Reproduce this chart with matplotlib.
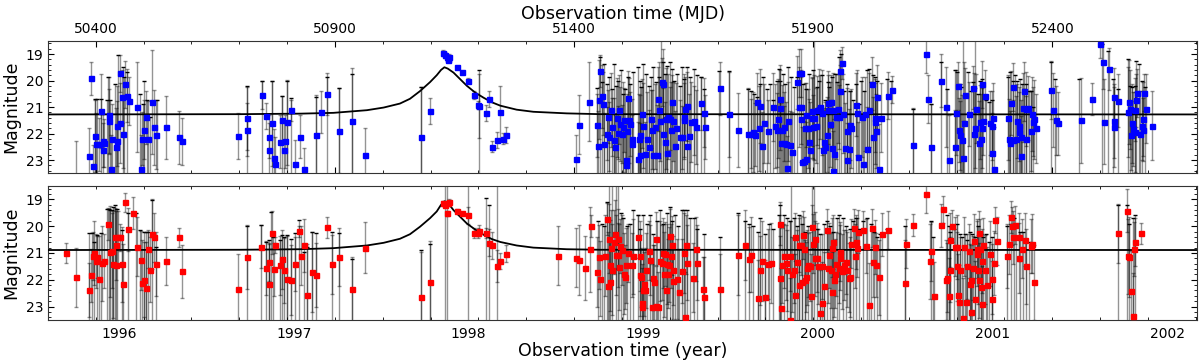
import numpy as np
import matplotlib.pyplot as plt
from matplotlib.ticker import MultipleLocator

# (MJD, magnitude, error), one list per season
blue_s1 = [
    (50387, 22.85, 1.06), (50391, 19.91, 0.62), (50394, 23.22, 0.8), (50399, 22.09, 1.37),
    (50401, 22.41, 1.2), (50407, 22.40, 1.0), (50411, 21.15, 1.4), (50415, 22.62, 1.0),
    (50415, 22.27, 1.0), (50418, 22.37, 0.9), (50428, 21.31, 1.46), (50428, 21.52, 1.2),
    (50432, 23.35, 1.3), (50435, 22.19, 1.3), (50442, 22.52, 1.5), (50444, 21.72, 1.5),
    (50444, 22.27, 1.5), (50450, 21.60, 1.5), (50451, 19.72, 0.7), (50456, 20.62, 1.0),
    (50458, 22.00, 1.3), (50462, 20.15, 0.9), (50466, 20.57, 1.0), (50469, 20.77, 0.9),
    (50486, 21.00, 1.68), (50495, 23.35, 1.3), (50497, 22.19, 1.0), (50501, 21.85, 1.1),
    (50505, 21.39, 1.0), (50510, 22.19, 1.4), (50518, 20.80, 1.97), (50522, 21.77, 1.4),
    (50527, 22.04, 1.3), (50546, 21.77, 1.2), (50574, 22.15, 1.0), (50581, 22.30, 0.9),
    (50359, 23.90, 1.6),
]
blue_s2 = [
    (50697, 22.10, 0.88), (50716, 21.43, 1.2), (50717, 21.85, 1.0), (50747, 20.54, 0.54),
    (50755, 21.34, 0.5), (50762, 22.12, 0.8), (50762, 22.62, 1.0), (50768, 21.62, 1.6),
    (50772, 22.92, 1.1), (50775, 23.15, 1.0), (50785, 22.31, 1.0), (50789, 21.50, 0.9),
    (50794, 22.62, 1.1), (50796, 22.29, 1.0), (50800, 21.57, 1.6), (50809, 21.12, 0.4),
    (50817, 23.15, 0.9), (50828, 22.12, 0.8), (50835, 23.35, 0.8), (50861, 22.04, 1.5),
    (50871, 21.19, 0.8), (50884, 20.51, 0.8), (50908, 21.89, 1.6), (50936, 21.54, 2.0),
    (50964, 22.81, 1.0),
]
blue_s3 = [
    (51080, 22.15, 1.9), (51099, 21.15, 0.5), (51126, 18.97, 0.12), (51131, 19.04, 0.1),
    (51134, 19.12, 0.1), (51136, 19.17, 0.1), (51137, 19.22, 0.1), (51138, 19.10, 0.1),
    (51156, 19.50, 0.06), (51165, 19.69, 0.06), (51179, 20.00, 0.1), (51190, 20.56, 0.15),
    (51200, 20.91, 0.15), (51202, 20.97, 1.2), (51215, 21.22, 0.3), (51222, 20.69, 0.3),
    (51228, 22.50, 0.2), (51239, 22.26, 0.3), (51246, 21.20, 1.0), (51252, 22.19, 0.2),
    (51257, 22.06, 0.3),
]
blue_s4 = [
    (51404, 22.97, 0.9), (51411, 21.66, 1.1), (51432, 20.80, 1.5), (51448, 21.69, 1.2),
    (51450, 22.46, 1.3), (51453, 20.72, 1.5), (51455, 19.65, 0.6), (51458, 20.60, 1.2),
    (51461, 20.87, 1.2), (51463, 22.41, 1.2), (51470, 22.00, 1.0), (51472, 21.37, 1.0),
    (51474, 22.12, 1.3), (51477, 21.12, 1.4), (51480, 21.75, 1.1), (51483, 22.25, 1.6),
    (51486, 22.50, 1.2), (51490, 21.40, 1.5), (51493, 21.97, 1.0), (51494, 21.10, 1.3),
    (51496, 21.65, 1.4), (51500, 22.02, 1.1), (51502, 21.75, 1.7), (51505, 21.50, 1.2),
    (51508, 23.00, 1.5), (51509, 23.19, 1.3), (51510, 21.90, 1.4), (51513, 20.65, 1.0),
    (51515, 21.50, 1.6), (51517, 21.65, 1.2), (51521, 22.19, 1.5), (51522, 22.41, 1.1),
    (51533, 22.97, 1.4), (51535, 22.19, 1.7), (51537, 22.81, 1.2), (51539, 22.04, 1.5),
    (51542, 21.25, 1.3), (51544, 21.70, 1.6), (51549, 22.77, 1.2), (51552, 22.22, 1.8),
    (51556, 22.50, 1.4), (51561, 21.44, 1.1), (51564, 21.85, 1.5), (51566, 22.81, 1.3),
    (51570, 21.75, 1.6), (51573, 22.81, 1.9), (51575, 20.69, 1.2), (51577, 21.12, 1.8),
    (51580, 21.54, 1.5), (51584, 20.06, 0.9), (51587, 20.12, 1.3), (51587, 22.00, 1.7),
    (51590, 22.31, 1.5), (51593, 21.44, 1.9), (51594, 22.75, 1.4), (51596, 21.37, 1.6),
    (51600, 21.44, 1.2), (51602, 21.85, 1.8), (51605, 20.81, 1.0), (51607, 21.54, 1.5),
    (51611, 22.46, 1.3), (51614, 21.81, 1.7), (51621, 22.15, 1.4), (51625, 22.15, 1.2),
    (51629, 21.37, 1.6), (51630, 21.50, 1.4), (51633, 21.06, 1.2), (51636, 22.47, 1.5),
    (51637, 20.97, 1.3), (51641, 22.10, 1.6), (51644, 21.56, 1.5), (51650, 21.52, 1.3),
    (51655, 21.75, 1.4), (51665, 20.85, 1.0), (51671, 21.21, 1.3), (51674, 21.75, 1.2),
    (51706, 20.30, 1.0), (51723, 21.27, 1.6), (51742, 21.87, 1.4), (51763, 22.00, 1.7),
    (51770, 22.00, 1.3), (51775, 21.94, 1.5), (51779, 22.04, 1.2), (51783, 20.80, 1.1),
    (51786, 21.81, 1.6), (51789, 20.97, 1.4), (51793, 22.47, 1.3), (51798, 21.62, 1.5),
    (51805, 21.92, 1.2), (51816, 21.00, 1.3), (51821, 21.72, 1.6), (51824, 21.87, 1.4),
    (51827, 21.44, 1.5), (51830, 21.02, 1.6), (51831, 20.69, 1.1), (51832, 22.35, 1.5),
    (51835, 21.87, 1.7), (51838, 21.75, 1.3), (51839, 22.35, 1.4), (51844, 22.40, 1.6),
    (51845, 23.31, 1.2), (51848, 21.54, 1.5), (51852, 22.44, 1.3), (51855, 22.69, 1.5),
    (51867, 20.06, 1.0), (51870, 19.72, 0.9), (51871, 21.00, 1.5),
]
blue_s5 = [
    (51874, 19.72, 0.9), (51874, 21.00, 1.4), (51874, 21.46, 1.6), (51876, 23.06, 1.3),
    (51881, 23.04, 1.5), (51883, 21.81, 1.7), (51885, 21.31, 1.2), (51886, 22.97, 1.4),
    (51890, 21.81, 1.5), (51892, 22.31, 1.6), (51893, 22.62, 1.8), (51897, 21.16, 1.3),
    (51898, 21.41, 1.5), (51900, 21.75, 1.2), (51902, 21.41, 1.6), (51906, 21.70, 1.4),
    (51909, 21.12, 1.3), (51912, 21.06, 1.5), (51914, 21.00, 1.2), (51918, 21.22, 1.6),
    (51920, 22.62, 1.5), (51923, 22.32, 1.3), (51925, 22.50, 1.7), (51928, 22.04, 1.4),
    (51930, 20.85, 1.2), (51932, 21.10, 1.3), (51935, 21.65, 1.6), (51937, 20.81, 1.0),
    (51939, 22.54, 1.8), (51941, 21.10, 1.4), (51942, 23.40, 1.5), (51944, 22.77, 1.3),
    (51948, 21.37, 1.6), (51952, 21.06, 1.3), (51955, 21.37, 1.2), (51956, 20.40, 1.0),
    (51957, 19.65, 0.8), (51960, 19.34, 0.6), (51962, 21.25, 1.5), (51966, 22.54, 1.7),
    (51970, 23.00, 1.4), (51971, 21.90, 1.6), (51974, 22.57, 1.5), (51976, 21.69, 1.3),
    (51980, 21.81, 1.5), (51990, 20.91, 1.2), (51992, 21.22, 1.6), (51994, 22.87, 1.3),
    (52002, 21.37, 1.5), (52005, 23.15, 1.8), (52008, 21.27, 1.4), (52012, 22.60, 1.6),
    (52017, 21.10, 1.4), (52022, 20.12, 1.0), (52026, 22.12, 1.5), (52029, 21.40, 1.3),
    (52030, 21.56, 1.6), (52031, 21.91, 1.4), (52033, 20.62, 1.2), (52037, 23.35, 1.7),
    (52041, 21.41, 1.3), (52056, 20.57, 0.9), (52065, 20.34, 0.5),
]
blue_s6 = [
    (52108, 22.42, 1.4), (52136, 19.00, 0.7), (52140, 20.69, 0.9), (52146, 22.50, 1.6),
    (52168, 20.00, 1.0), (52178, 21.00, 1.5), (52185, 23.00, 1.7), (52196, 22.50, 1.4),
    (52198, 21.22, 1.6), (52202, 20.22, 0.9), (52205, 21.87, 1.2), (52208, 22.07, 1.3),
    (52211, 22.26, 1.7), (52213, 22.91, 1.4), (52215, 21.62, 2.3), (52218, 20.54, 1.0),
    (52226, 21.27, 1.2), (52235, 20.27, 0.8), (52236, 22.00, 2.3), (52239, 21.79, 1.5),
    (52240, 21.07, 1.3), (52247, 22.37, 1.6), (52249, 21.56, 1.4), (52250, 22.19, 1.7),
    (52252, 21.79, 1.5), (52254, 20.15, 0.9), (52255, 21.52, 1.3), (52259, 20.60, 1.0),
    (52270, 21.60, 1.2), (52273, 21.70, 1.3), (52273, 22.72, 1.5), (52276, 21.40, 1.3),
    (52278, 23.35, 1.6),
]
blue_s7 = [
    (52308, 21.41, 1.6), (52310, 22.19, 1.5), (52312, 22.34, 1.2), (52314, 20.85, 1.2),
    (52318, 22.25, 1.5), (52318, 20.25, 0.9), (52324, 22.19, 1.6), (52327, 21.54, 1.4),
    (52330, 21.94, 1.7), (52331, 21.72, 1.3), (52335, 22.85, 1.5), (52335, 22.12, 1.4),
    (52339, 21.02, 1.3), (52340, 20.41, 1.1), (52344, 22.19, 1.6), (52346, 21.06, 1.4),
    (52350, 21.04, 1.2), (52355, 21.90, 1.5), (52358, 21.25, 1.4), (52360, 21.56, 1.3),
    (52362, 21.47, 1.5), (52365, 21.81, 1.3), (52397, 20.37, 1.1), (52401, 21.12, 1.4),
    (52407, 21.50, 1.3), (52412, 21.62, 1.2), (52459, 21.50, 1.6), (52483, 20.70, 0.6),
    (52500, 18.64, 0.5), (52505, 19.31, 1.0), (52508, 21.55, 1.6), (52519, 19.57, 0.8),
    (52528, 20.61, 1.1), (52530, 21.76, 1.5), (52530, 21.54, 1.4), (52538, 20.76, 1.0),
]
blue_s8 = [
    (52558, 21.19, 1.7), (52561, 20.81, 1.6), (52562, 21.09, 1.5), (52565, 22.06, 1.3),
    (52567, 21.62, 1.5), (52568, 21.82, 1.4), (52572, 21.10, 1.2), (52573, 21.94, 1.5),
    (52575, 20.75, 1.0), (52578, 20.47, 0.9), (52583, 22.00, 1.6), (52587, 21.70, 1.3),
    (52589, 21.44, 1.4), (52590, 21.85, 1.2), (52592, 20.46, 0.7), (52595, 21.07, 1.3),
    (52608, 21.70, 1.3),
]
# points fainter than the plotted range: only the upper end of the bar shows (MJD, bar top)
blue_faint = [
    (50399, 20.71), (50402, 20.71), (50412, 20.71), (50423, 20.75), (50426, 19.85),
    (50430, 20.75), (50440, 20.12), (50446, 19.04), (50457, 19.50), (50460, 19.85),
    (50465, 19.69), (50493, 20.50), (50499, 20.87), (50502, 20.00), (50507, 20.75),
    (50513, 21.37), (50528, 20.75), (50716, 20.22), (50747, 20.00), (50768, 20.00),
    (50789, 20.60), (50800, 20.00), (50808, 20.65), (50861, 20.62), (50884, 19.88),
    (50908, 20.27), (50936, 19.77), (51080, 20.25), (51201, 19.62),
    (51448, 20.28), (51455, 19.12), (51459, 20.06), (51463, 19.38), (51469, 20.12),
    (51474, 19.88), (51480, 20.31), (51483, 19.38), (51488, 20.19), (51493, 20.00),
    (51498, 19.62), (51502, 20.50), (51507, 20.31), (51512, 19.88), (51517, 20.12),
    (51524, 19.69), (51533, 19.50), (51537, 20.00), (51541, 20.25), (51545, 19.38),
    (51551, 19.75), (51556, 20.19), (51561, 19.88), (51566, 19.50), (51572, 20.06),
    (51577, 19.88), (51581, 18.40), (51586, 19.31), (51591, 19.75), (51595, 19.44),
    (51600, 19.31), (51605, 19.56), (51609, 20.00), (51615, 19.75), (51621, 20.19),
    (51626, 19.50), (51631, 19.94), (51636, 19.50), (51643, 19.88), (51650, 19.56),
    (51657, 19.81), (51666, 19.88), (51672, 20.31), (51704, 19.65), (51723, 19.65),
    (51763, 20.31), (51770, 20.38), (51777, 20.50), (51782, 20.62), (51789, 20.12),
    (51796, 19.88), (51803, 20.31), (51810, 20.12), (51817, 20.75), (51824, 20.00),
    (51828, 19.56), (51831, 20.00), (51837, 19.75), (51842, 20.12), (51848, 19.50),
    (51853, 19.88), (51859, 20.25), (51866, 19.88),
    (51879, 20.12), (51886, 20.31), (51892, 19.75), (51899, 19.62), (51902, 18.40),
    (51907, 20.25), (51913, 20.00), (51918, 19.81), (51925, 20.75), (51930, 20.06),
    (51934, 20.25), (51939, 19.88), (51945, 19.75), (51949, 20.06), (51955, 19.12),
    (51959, 19.00), (51964, 20.38), (51970, 20.12), (51977, 20.38), (51984, 20.75),
    (51990, 20.12), (51995, 20.88), (52001, 20.00), (52006, 20.38), (52012, 19.62),
    (52016, 19.56), (52020, 20.06), (52026, 19.81), (52030, 19.88), (52034, 20.00),
    (52055, 19.94), (52063, 20.00), (52108, 21.06), (52146, 20.88), (52168, 19.31),
    (52179, 20.31), (52196, 19.62), (52200, 19.69), (52206, 20.12), (52210, 20.25),
    (52214, 18.40), (52224, 19.69), (52229, 20.38), (52235, 20.06), (52239, 18.40),
    (52245, 20.50), (52249, 20.00), (52254, 19.94), (52261, 20.75), (52268, 20.81),
    (52274, 20.75), (52307, 19.88), (52312, 19.69), (52317, 20.00), (52322, 19.81),
    (52327, 20.00), (52332, 19.94), (52336, 20.12), (52341, 20.31), (52346, 20.12),
    (52352, 20.38), (52356, 20.38), (52360, 21.00), (52397, 19.31), (52406, 19.94),
    (52456, 19.94), (52503, 18.62), (52517, 18.88), (52526, 19.94), (52538, 20.31),
    (52558, 19.19), (52562, 20.19), (52567, 20.25), (52572, 20.19), (52576, 19.25),
    (52582, 19.38), (52587, 20.00), (52593, 20.25),
]

red_s1 = [
    (50338, 21.00, 0.38), (50359, 21.90, 1.1), (50387, 22.38, 1.0), (50390, 21.84, 1.0),
    (50394, 21.12, 0.9), (50397, 21.00, 1.2), (50400, 21.30, 1.0), (50403, 21.15, 0.8),
    (50407, 21.98, 1.6), (50414, 21.38, 1.4), (50418, 21.31, 1.0), (50426, 19.92, 0.6),
    (50429, 20.96, 1.7), (50434, 20.92, 1.4), (50437, 21.42, 2.0), (50440, 20.42, 1.1),
    (50442, 21.46, 2.1), (50443, 20.72, 1.3), (50446, 20.42, 1.0), (50451, 20.42, 0.5),
    (50456, 21.42, 1.4), (50458, 22.15, 1.5), (50462, 19.11, 0.35), (50467, 20.12, 0.8),
    (50479, 19.50, 0.6), (50486, 20.77, 1.1), (50495, 21.27, 1.1), (50497, 22.12, 1.6),
    (50501, 22.00, 1.4), (50505, 22.30, 1.7), (50509, 20.85, 0.7), (50514, 21.62, 1.2),
    (50518, 20.30, 1.3), (50522, 20.42, 0.9), (50527, 21.42, 1.2), (50546, 21.31, 0.9),
    (50575, 20.42, 0.35), (50581, 21.69, 1.0),
]
red_s2 = [
    (50697, 22.35, 1.3), (50716, 21.15, 1.2), (50746, 20.77, 0.8), (50755, 21.57, 1.0),
    (50762, 22.15, 1.5), (50762, 21.34, 0.7), (50769, 20.24, 0.8), (50772, 21.61, 1.0),
    (50775, 20.69, 0.3), (50785, 21.46, 1.1), (50789, 21.24, 1.1), (50794, 21.65, 1.2),
    (50800, 21.96, 1.6), (50809, 22.02, 1.3), (50817, 21.41, 1.0), (50826, 20.19, 0.2),
    (50829, 21.11, 1.1), (50835, 20.72, 1.0), (50842, 22.55, 1.9), (50852, 21.72, 1.5),
    (50861, 21.81, 1.2), (50884, 20.04, 0.4), (50893, 21.42, 1.1), (50908, 21.15, 1.1),
    (50936, 22.35, 1.2), (50964, 20.81, 0.95),
]
red_s3 = [
    (51080, 22.65, 1.7), (51099, 22.07, 1.5), (51126, 19.15, 0.1), (51130, 19.20, 0.1),
    (51134, 19.52, 0.1), (51136, 19.15, 0.1), (51139, 19.08, 0.1), (51156, 19.42, 0.05),
    (51165, 19.52, 0.05), (51179, 19.60, 0.3), (51190, 20.25, 0.2), (51200, 20.25, 0.2),
    (51202, 20.17, 0.2), (51215, 20.25, 0.2), (51222, 20.62, 0.5), (51228, 20.72, 0.5),
    (51239, 21.49, 0.6), (51246, 21.30, 0.3), (51257, 21.02, 0.3),
]
red_s4 = [
    (51366, 21.10, 1.1), (51404, 21.17, 1.1), (51411, 21.26, 1.3), (51424, 21.57, 1.2),
    (51433, 20.87, 1.6), (51435, 19.99, 0.4), (51448, 21.72, 1.3), (51452, 21.15, 1.2),
    (51454, 21.96, 1.4), (51465, 21.10, 1.5), (51469, 19.72, 0.6), (51472, 22.22, 2.0),
    (51473, 20.46, 1.3), (51475, 21.46, 1.7), (51476, 22.09, 1.6), (51478, 20.80, 1.4),
    (51480, 21.62, 1.7), (51483, 20.59, 1.2), (51485, 20.31, 1.3), (51488, 21.07, 1.5),
    (51491, 20.46, 1.1), (51493, 21.07, 1.2), (51495, 21.52, 1.6), (51496, 20.75, 1.0),
    (51501, 20.90, 1.3), (51505, 21.77, 1.5), (51506, 21.90, 1.2), (51509, 21.46, 1.4),
    (51512, 21.00, 1.1), (51521, 21.44, 1.2), (51524, 21.12, 1.4), (51533, 20.40, 0.8),
    (51538, 21.12, 1.3), (51538, 21.84, 1.5), (51540, 21.90, 1.1), (51542, 23.02, 1.6),
    (51543, 22.87, 1.3), (51545, 22.40, 1.5), (51547, 22.15, 1.2), (51549, 22.40, 1.6),
    (51551, 21.65, 1.4), (51556, 20.92, 1.1), (51559, 21.27, 1.3), (51563, 23.00, 1.6),
    (51566, 21.92, 1.2), (51568, 22.09, 1.4), (51571, 22.99, 1.5), (51572, 20.46, 1.0),
    (51575, 23.00, 1.3), (51579, 21.30, 1.5), (51583, 21.36, 1.4), (51587, 21.00, 1.3),
    (51588, 21.80, 1.6), (51591, 21.05, 1.2), (51592, 22.37, 1.4), (51594, 21.40, 1.5),
    (51596, 21.77, 1.3), (51598, 21.44, 1.4), (51601, 20.37, 1.0), (51602, 21.10, 1.2),
    (51605, 20.72, 1.1), (51607, 22.05, 1.4), (51608, 21.65, 1.3), (51615, 21.96, 1.5),
    (51619, 22.45, 1.6), (51625, 21.67, 1.2), (51630, 21.00, 1.5), (51632, 23.40, 1.7),
    (51634, 20.69, 1.1), (51637, 21.37, 1.4), (51648, 21.92, 1.3), (51654, 20.85, 1.2),
    (51657, 21.37, 1.4), (51669, 22.36, 1.2), (51672, 22.65, 1.5), (51706, 22.35, 1.3),
    (51742, 21.07, 1.5), (51758, 20.69, 1.3), (51765, 21.24, 1.2), (51770, 21.07, 1.4),
    (51784, 22.67, 1.4), (51789, 21.65, 1.3), (51794, 21.30, 1.5), (51800, 22.65, 1.4),
    (51805, 21.42, 1.3), (51812, 21.37, 1.5), (51830, 21.95, 1.6), (51831, 19.90, 0.8),
    (51832, 23.05, 1.5), (51835, 21.46, 1.4), (51838, 21.12, 1.2), (51844, 21.37, 1.4),
    (51846, 21.65, 1.5), (51851, 23.52, 1.6), (51852, 21.12, 1.3), (51855, 21.80, 1.4),
    (51859, 21.65, 1.2), (51861, 20.40, 0.9), (51863, 22.55, 1.5), (51867, 21.34, 1.2),
    (51870, 22.19, 1.4), (51871, 20.71, 1.0),
]
red_s5 = [
    (51874, 20.71, 1.1), (51876, 22.09, 1.4), (51878, 20.34, 0.9), (51881, 20.84, 1.2),
    (51883, 22.02, 1.5), (51886, 21.90, 1.3), (51888, 21.55, 1.4), (51890, 21.46, 1.2),
    (51893, 21.50, 1.3), (51895, 22.62, 1.6), (51897, 20.02, 0.8), (51900, 20.65, 1.1),
    (51904, 20.46, 1.0), (51904, 21.19, 1.4), (51909, 21.17, 1.3), (51911, 21.50, 1.4),
    (51914, 23.24, 1.6), (51918, 21.50, 1.2), (51918, 22.85, 1.5), (51923, 22.25, 1.3),
    (51928, 20.15, 0.8), (51930, 21.55, 1.3), (51934, 21.09, 1.2), (51937, 21.65, 1.4),
    (51939, 22.46, 1.5), (51940, 20.80, 1.1), (51942, 20.59, 1.0), (51944, 22.00, 1.4),
    (51946, 21.77, 1.3), (51948, 21.40, 1.2), (51953, 21.55, 1.3), (51956, 21.17, 1.2),
    (51957, 20.96, 1.1), (51960, 21.69, 1.4), (51964, 21.46, 1.3), (51969, 21.34, 1.2),
    (51971, 21.62, 1.4), (51974, 21.92, 1.3), (51977, 21.90, 1.5), (51980, 20.65, 0.9),
    (51985, 20.06, 0.7), (51987, 21.12, 1.2), (51990, 20.59, 1.0), (51992, 20.81, 1.1),
    (51994, 20.21, 0.8), (52005, 20.15, 0.7), (52010, 20.74, 1.0), (52017, 22.96, 1.6),
    (52022, 20.07, 0.7), (52026, 21.34, 1.3), (52030, 20.77, 1.0), (52031, 21.46, 1.2),
    (52037, 21.90, 1.4), (52044, 20.30, 0.8), (52056, 20.15, 0.7),
]
red_s6 = [
    (52093, 22.12, 1.6), (52095, 20.65, 0.9), (52109, 19.96, 0.4), (52136, 18.80, 0.7),
    (52144, 21.31, 1.4), (52147, 20.94, 1.1), (52153, 22.62, 1.3), (52168, 19.96, 0.8),
    (52172, 19.37, 0.5), (52178, 22.02, 1.5), (52180, 21.92, 1.3), (52183, 22.59, 1.4),
    (52186, 20.52, 1.0), (52187, 21.62, 1.2), (52190, 20.00, 0.6), (52196, 20.77, 1.1),
    (52201, 20.77, 1.2), (52201, 21.50, 1.3), (52203, 22.55, 1.5), (52205, 22.84, 1.4),
    (52207, 21.62, 1.2), (52214, 23.42, 1.5), (52215, 20.77, 1.1), (52220, 22.84, 1.4),
    (52221, 21.50, 1.2), (52226, 20.92, 1.0), (52228, 22.17, 1.5), (52229, 23.19, 1.6),
    (52231, 22.02, 1.3), (52235, 21.55, 1.2), (52237, 20.56, 1.0), (52238, 22.71, 1.4),
    (52242, 20.84, 1.1), (52243, 21.02, 1.2), (52245, 21.62, 1.3), (52246, 20.24, 0.8),
    (52247, 22.02, 1.4), (52249, 20.84, 1.1), (52250, 22.27, 1.5), (52252, 22.90, 1.4),
    (52252, 21.30, 1.2), (52256, 20.69, 1.0), (52259, 21.62, 1.3), (52263, 22.19, 1.4),
    (52270, 21.02, 1.2), (52273, 22.70, 1.4), (52274, 21.96, 1.3), (52278, 21.37, 1.2),
    (52280, 19.77, 0.5), (52284, 20.55, 0.9),
]
red_s7 = [
    (52306, 21.11, 1.2), (52310, 20.67, 1.1), (52314, 19.67, 0.6), (52316, 19.99, 0.7),
    (52317, 20.42, 1.0), (52322, 19.96, 0.7), (52330, 20.40, 0.9), (52331, 21.19, 1.3),
    (52337, 20.84, 1.1), (52343, 20.50, 1.0), (52345, 21.50, 1.4), (52355, 20.74, 1.0),
    (52357, 20.65, 1.1), (52362, 22.09, 1.4),
]
red_s8 = [
    (52538, 20.27, 1.1), (52557, 19.42, 0.8), (52558, 21.12, 1.4), (52561, 21.15, 1.5),
    (52565, 22.42, 1.5), (52568, 23.34, 1.6), (52571, 20.86, 1.0), (52573, 20.59, 0.9),
    (52585, 20.27, 0.4),
]
red_faint = [
    (50387, 20.27), (50393, 20.27), (50397, 20.60), (50403, 20.34), (50411, 20.27),
    (50423, 19.34), (50428, 19.34), (50430, 19.40), (50435, 19.40), (50437, 19.27),
    (50440, 19.21), (50444, 19.34), (50456, 20.15), (50467, 19.50), (50485, 19.52),
    (50493, 20.15), (50501, 20.21), (50506, 20.21), (50510, 20.21), (50518, 19.02),
    (50527, 20.77), (50716, 20.00), (50746, 19.96), (50755, 20.59), (50762, 20.52),
    (50766, 19.46), (50771, 20.40), (50785, 20.52), (50789, 20.34), (50794, 20.40),
    (50800, 20.34), (50809, 20.46), (50817, 20.27), (50826, 19.77), (50835, 20.96),
    (50842, 20.77), (50852, 20.21), (50861, 20.27), (50893, 20.21), (50908, 20.27),
    (50936, 21.21), (51080, 20.90), (51099, 20.65), (51130, 18.40), (51134, 18.40),
    (51179, 18.40), (51215, 18.96), (51222, 19.20), (51239, 18.40),
    (51451, 19.80), (51458, 19.90), (51463, 20.00), (51469, 19.10), (51474, 18.40),
    (51479, 18.40), (51488, 18.40), (51493, 18.40), (51498, 19.50), (51503, 19.70),
    (51510, 20.00), (51517, 19.90), (51524, 19.40), (51533, 19.60), (51538, 20.10),
    (51545, 19.60), (51552, 19.90), (51559, 19.60), (51566, 20.30), (51573, 19.80),
    (51580, 19.40), (51587, 19.90), (51594, 19.50), (51600, 19.30), (51605, 19.80),
    (51611, 19.60), (51618, 20.00), (51625, 19.40), (51630, 19.40), (51636, 19.40),
    (51643, 19.70), (51650, 19.70), (51657, 20.10), (51672, 20.30), (51706, 20.40),
    (51742, 19.50), (51758, 19.80), (51765, 19.90), (51775, 20.00), (51784, 20.20),
    (51789, 19.70), (51800, 20.30), (51807, 19.90), (51817, 20.10), (51828, 19.60),
    (51831, 19.20), (51838, 19.60), (51845, 19.70), (51851, 19.80), (51853, 18.40),
    (51859, 19.70), (51866, 20.00), (51871, 19.60),
    (51876, 19.90), (51883, 20.20), (51890, 20.00), (51897, 18.40), (51902, 18.40),
    (51907, 20.10), (51914, 20.30), (51923, 19.90), (51928, 19.80), (51935, 20.00),
    (51942, 20.20), (51949, 19.70), (51955, 19.60), (51962, 19.70), (51969, 20.00),
    (51976, 20.10), (51983, 19.80), (51990, 19.70), (51996, 20.10), (52005, 19.80),
    (52012, 19.70), (52020, 19.90), (52027, 20.20), (52034, 20.40), (52040, 20.30),
    (52055, 20.10), (52093, 20.00), (52146, 19.80), (52151, 20.40), (52179, 19.60),
    (52183, 20.00), (52187, 20.20), (52194, 20.10), (52200, 19.90), (52206, 20.30),
    (52211, 20.40), (52217, 20.30), (52222, 20.50), (52228, 20.20), (52233, 20.30),
    (52239, 20.40), (52245, 20.00), (52250, 20.30), (52256, 20.40), (52261, 20.30),
    (52267, 20.60), (52273, 20.40), (52306, 20.00), (52313, 19.90), (52320, 19.70),
    (52325, 20.00), (52332, 20.20), (52339, 20.20), (52346, 20.50), (52352, 20.60),
    (52538, 19.20), (52557, 19.20), (52561, 19.90), (52568, 19.70), (52573, 19.60),
]

# fitted model curve (MJD, magnitude)
fit_mjd = [50301, 50700, 50828, 50897, 50967, 51002, 51036, 51057, 51078, 51099, 51113,
           51122, 51129, 51136, 51148, 51162, 51176, 51193, 51211, 51228, 51246, 51280,
           51315, 51385, 51455, 52702]
fit_blue = [21.28, 21.27, 21.25, 21.22, 21.12, 21.02, 20.87, 20.69, 20.40, 20.06, 19.80,
            19.60, 19.50, 19.55, 19.70, 19.95, 20.20, 20.45, 20.65, 20.82, 20.95, 21.10,
            21.18, 21.24, 21.27, 21.28]
fit_red = [20.89, 20.88, 20.86, 20.82, 20.72, 20.62, 20.47, 20.30, 20.02, 19.70, 19.45,
           19.20, 19.07, 19.12, 19.40, 19.65, 19.90, 20.12, 20.32, 20.48, 20.59, 20.72,
           20.80, 20.86, 20.88, 20.89]

mjd_ticks = [50400, 50900, 51400, 51900, 52400]
year_labels = [1996, 1997, 1998, 1999, 2000, 2001, 2002]
year_zero_mjd = 50449  # where the "1996" label sits on the MJD axis

blue = np.array(blue_s1 + blue_s2 + blue_s3 + blue_s4 + blue_s5 + blue_s6 + blue_s7 + blue_s8)
red = np.array(red_s1 + red_s2 + red_s3 + red_s4 + red_s5 + red_s6 + red_s7 + red_s8)
blue_f = np.array(blue_faint)
red_f = np.array(red_faint)

bar_col = (0, 0, 0, 0.42)

fig = plt.figure(figsize=(12, 3.64), dpi=100)
ax1 = fig.add_axes([0.0403, 0.524, 0.957, 0.364])
ax2 = fig.add_axes([0.0403, 0.121, 0.957, 0.368])


def draw(ax, data, faint, fit, color):
    # bars of the faint points run off the bottom of the panel
    ax.vlines(faint[:, 0], faint[:, 1], 24.0, colors=[bar_col], lw=1.0, zorder=1)
    ax.plot(faint[:, 0], faint[:, 1], '_', color='black', ms=3, mew=1.0, zorder=1)
    line, caps, bars = ax.errorbar(data[:, 0], data[:, 1], yerr=data[:, 2], fmt='s',
                                   ms=3.6, mfc=color, mec=color, ecolor=bar_col,
                                   elinewidth=1.0, capsize=1.5, capthick=1.0, zorder=2)
    for c in caps:
        c.set_color('black')
    line.set_zorder(4)
    ax.plot(fit_mjd, fit, color='black', lw=1.3, zorder=3)
    ax.set_xlim(50301, 52702)
    ax.set_ylim(23.5, 18.5)
    ax.set_ylabel('Magnitude', fontsize=12.5)
    ax.yaxis.set_major_locator(MultipleLocator(1))
    ax.yaxis.set_minor_locator(MultipleLocator(0.2))
    ax.xaxis.set_minor_locator(MultipleLocator(100))
    ax.tick_params(which='both', direction='in', top=True, bottom=True, left=True, right=True,
                   labelsize=10)
    ax.tick_params(which='major', length=4)
    ax.tick_params(which='minor', length=2.5)
    for s in ax.spines.values():
        s.set_color('#333333')


draw(ax1, blue, blue_f, fit_blue, '#0000ff')
draw(ax2, red, red_f, fit_red, '#ff0000')

ax1.set_xticks(mjd_ticks)
ax1.tick_params(axis='x', labeltop=True, labelbottom=False)
ax1.xaxis.set_label_position('top')
ax1.set_xlabel('Observation time (MJD)', fontsize=12.5, labelpad=2)

year_pos = [year_zero_mjd + (y - 1996) * 365.25 for y in year_labels]
ax2.set_xticks(year_pos)
ax2.set_xticklabels([str(y) for y in year_labels])
ax2.tick_params(axis='x', which='major', length=0, pad=5)
ax2.set_xlabel('Observation time (year)', fontsize=12.5, labelpad=1)

fig.savefig('out.png', dpi=100)
